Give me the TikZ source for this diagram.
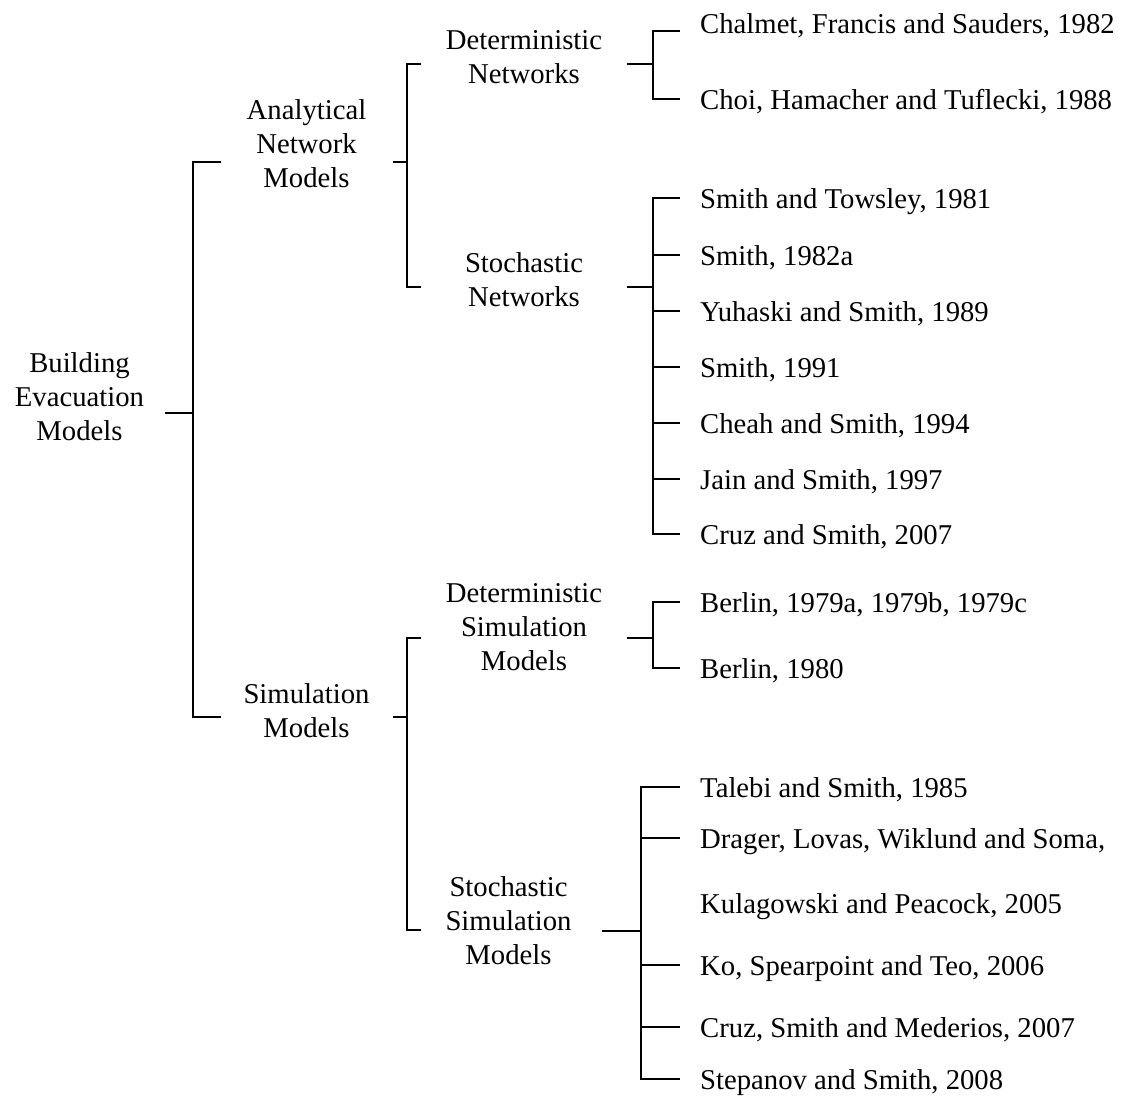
\documentclass[tikz,border=0pt]{standalone}
\usepackage{fontspec}
\setmainfont{Liberation Serif}
\usepackage{tikz}

\begin{document}
\begin{tikzpicture}[x=1pt,y=-1pt]
\tikzstyle{mid}=[align=center, inner sep=0pt, font=\fontsize{28.7}{34}\selectfont]
\tikzstyle{leaf}=[anchor=west, inner xsep=20pt, inner ysep=0pt, text height=21.5pt, text depth=1.4pt, font=\fontsize{28.7}{34}\selectfont]
\tikzstyle{connect}=[line width=1.1pt, black]
\tikzstyle{stub}=[line width=1.6pt, black]
\useasboundingbox (0,0) rectangle (1142,1099);
% categories
  \node[mid] (root) at (79.5,397) {Building\\Evacuation\\Models};
  \node[mid] (anm) at (306.5,144) {Analytical\\Network\\Models};
  \node[mid] (sim) at (306.5,710.5) {Simulation\\Models};
  \node[mid] (dn) at (524,57) {Deterministic\\Networks};
  \node[mid] (sn) at (524,279.2) {Stochastic\\Networks};
  \node[mid] (dsm) at (524,627) {Deterministic\\Simulation\\Models};
  \node[mid] (ssm) at (508.5,920.2) {Stochastic\\Simulation\\Models};
% where the brackets meet the categories
  \coordinate (root-out) at (165,413);
  \coordinate (anm-in) at (221,162);
  \coordinate (anm-out) at (393,162);
  \coordinate (sim-in) at (221,717);
  \coordinate (sim-out) at (393,717);
  \coordinate (dn-in) at (421,64);
  \coordinate (dn-out) at (627,64);
  \coordinate (sn-in) at (421,287);
  \coordinate (sn-out) at (627,287);
  \coordinate (dsm-in) at (421,638);
  \coordinate (dsm-out) at (627,638);
  \coordinate (ssm-in) at (421,930);
  \coordinate (ssm-out) at (602,931);
% references
  \node[leaf] (c1) at (680,23) {Chalmet, Francis and Sauders, 1982};
  \node[leaf] (c2) at (680,99) {Choi, Hamacher and Tuflecki, 1988};
  \node[leaf] (s1) at (680,198) {Smith and Towsley, 1981};
  \node[leaf] (s2) at (680,255) {Smith, 1982a};
  \node[leaf] (s3) at (680,311) {Yuhaski and Smith, 1989};
  \node[leaf] (s4) at (680,367) {Smith, 1991};
  \node[leaf] (s5) at (680,423) {Cheah and Smith, 1994};
  \node[leaf] (s6) at (680,479) {Jain and Smith, 1997};
  \node[leaf] (s7) at (680,534) {Cruz and Smith, 2007};
  \node[leaf] (b1) at (680,602) {Berlin, 1979a, 1979b, 1979c};
  \node[leaf] (b2) at (680,668) {Berlin, 1980};
  \node[leaf] (t1) at (680,787) {Talebi and Smith, 1985};
  \node[leaf] (t2) at (680,838) {Drager, Lovas, Wiklund and Soma,};
  \node[leaf] (t3) at (680,903) {Kulagowski and Peacock, 2005};
  \node[leaf] (t4) at (680,965) {Ko, Spearpoint and Teo, 2006};
  \node[leaf] (t5) at (680,1027) {Cruz, Smith and Mederios, 2007};
  \node[leaf] (t6) at (680,1079) {Stepanov and Smith, 2008};
% brackets
  \draw[stub] (root-out) -- ++(28,0) coordinate (j0);
  \draw[connect] (anm-in) -| (j0) |- (sim-in);
  \draw[stub] (anm-out) -- ++(14,0) coordinate (j1);
  \draw[connect] (dn-in) -| (j1) |- (sn-in);
  \draw[stub] (sim-out) -- ++(14,0) coordinate (j2);
  \draw[connect] (dsm-in) -| (j2) |- (ssm-in);
  \draw[stub] (dn-out) -- ++(26,0) coordinate (j3);
  \draw[connect] ([yshift=-8pt]c1.west) -| (j3) |- (c2.west);
  \draw[stub] (sn-out) -- ++(26,0) coordinate (j4);
  \draw[connect] (s1.west) -| (j4) |- (s7.west);
  \draw[connect] (j4) |- (s2.west);
  \draw[connect] (j4) |- (s3.west);
  \draw[connect] (j4) |- (s4.west);
  \draw[connect] (j4) |- (s5.west);
  \draw[connect] (j4) |- (s6.west);
  \draw[stub] (dsm-out) -- ++(26,0) coordinate (j5);
  \draw[connect] (b1.west) -| (j5) |- (b2.west);
  \draw[stub] (ssm-out) -- ++(39,0) coordinate (j6);
  \draw[connect] (t1.west) -| (j6) |- (t6.west);
  \draw[connect] (j6) |- (t2.west);
  \draw[connect] (j6) |- (t4.west);
  \draw[connect] (j6) |- (t5.west);
\end{tikzpicture}
\end{document}
